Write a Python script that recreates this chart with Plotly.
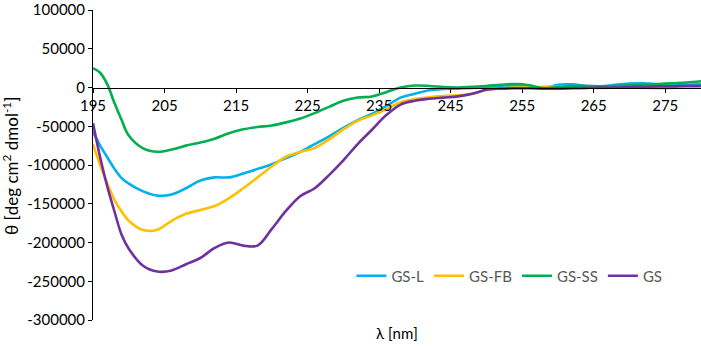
import plotly.graph_objects as go

wavelength = [195, 196, 197, 198, 199, 200, 202, 204, 206, 208, 210, 212, 214, 216, 218, 220,
              222, 224, 226, 228, 230, 232, 234, 236, 238, 240, 242, 244, 246, 248, 250, 252,
              254, 256, 258, 260, 262, 264, 266, 268, 270, 272, 274, 276, 278, 280]

gs_l = [-57000, -75000, -90000, -105000, -117000, -124000, -134000, -139500, -138000, -130000,
        -120000, -116000, -116000, -111000, -105000, -99000, -91000, -83000, -73000, -63000,
        -52000, -42000, -34000, -24000, -13000, -8000, -3500, -2000, -1500, -500, 0, 1000,
        2000, 1500, -1000, 3500, 4000, 2000, 1500, 3500, 5000, 5500, 4000, 3000, 3500, 4000]

gs_fb = [-73000, -100000, -124000, -145000, -160000, -172000, -184000, -183500, -172000, -163000,
         -158000, -153000, -143000, -130000, -116000, -102000, -89000, -83000, -78000, -67000,
         -54000, -43000, -36000, -28000, -19000, -15000, -12500, -11000, -10000, -8500, -3000, -1000,
         0, 0, 1000, 1000, 500, 0, -500, 0, 0, -500, -1000, -500, 500, 1500]

gs_ss = [25000, 19000, 4000, -20000, -42000, -62000, -78500, -83000, -80000, -75000,
         -71000, -66000, -59000, -54000, -51000, -49000, -45000, -40000, -33000, -25000,
         -17000, -13000, -11500, -6000, 0, 2500, 2000, 500, 0, 1000, 2000, 3500,
         4500, 3000, -1000, 500, 2000, 2000, 1500, 2000, 3000, 3500, 4500, 5500, 6500, 8000]

gs = [-46000, -90000, -128000, -160000, -190000, -208000, -230000, -237500, -236000, -228000,
      -220000, -207000, -200000, -204000, -204000, -182500, -159000, -140000, -130000, -113000,
      -94000, -73000, -54500, -35600, -22000, -17000, -14500, -13000, -11500, -8000, -3000, -1500,
      -1000, -1000, -1500, -1500, -1000, -500, 0, 0, 500, 1000, 1500, 1500, 2000, 2000]

series = [
    ("GS-L", gs_l, "#00B0F0"),
    ("GS-FB", gs_fb, "#FFC000"),
    ("GS-SS", gs_ss, "#00B050"),
    ("GS", gs, "#7030A0"),
]

x_ticks = [195, 205, 215, 225, 235, 245, 255, 265, 275]
y_ticks = [100000, 50000, 0, -50000, -100000, -150000, -200000, -250000, -300000]

FONT = "Lato"

fig = go.Figure()
for name, vals, color in series:
    fig.add_trace(go.Scatter(x=wavelength, y=vals, name=name, mode="lines",
                             line=dict(color=color, width=2.6, shape="spline", smoothing=1.0)))

M_L, M_R, M_T, M_B = 93, 0, 10, 28
plot_w = 701 - M_L - M_R
plot_h = 348 - M_T - M_B
bottom_px = 348 - M_B

fig.update_layout(
    width=701, height=348,
    margin=dict(l=M_L, r=M_R, t=M_T, b=M_B, autoexpand=False),
    paper_bgcolor="white", plot_bgcolor="white",
    font=dict(family=FONT, size=15, color="#000000"),
    showlegend=True,
    legend=dict(orientation="h", x=0.425, xanchor="left", y=(bottom_px - 276) / plot_h,
                yanchor="middle",
                font=dict(family=FONT, size=15, color="#595959"),
                bgcolor="rgba(0,0,0,0)", itemwidth=30, tracegroupgap=0),
    xaxis=dict(range=[195, 280], tickmode="array", tickvals=x_ticks,
               ticktext=[str(v) for v in x_ticks],
               showgrid=False, zeroline=False, showline=True, linecolor="#000000", linewidth=1,
               ticks="outside", ticklen=4, tickcolor="#000000",
               anchor="free", position=0.75, automargin=False,
               tickfont=dict(family=FONT, size=15, color="#000000")),
    yaxis=dict(range=[-300000, 100000], tickmode="array", tickvals=y_ticks,
               ticktext=[str(v) for v in y_ticks],
               showgrid=False, zeroline=False, showline=True, linecolor="#000000", linewidth=1,
               ticks="outside", ticklen=4, tickcolor="#000000",
               ticklabeloverflow="allow", automargin=False,
               tickfont=dict(family=FONT, size=15, color="#000000")),
    annotations=[
        dict(text="λ [nm]", xref="paper", yref="paper",
             x=(397 - M_L) / plot_w, y=(bottom_px - 333) / plot_h,
             xanchor="center", yanchor="middle", showarrow=False,
             font=dict(family=FONT, size=15, color="#000000")),
        dict(text="θ [deg cm<sup>2</sup> dmol<sup>-1</sup>]", textangle=-90,
             xref="paper", yref="paper",
             x=(11 - M_L) / plot_w, y=(bottom_px - 166) / plot_h,
             xanchor="center", yanchor="middle", showarrow=False,
             font=dict(family=FONT, size=17, color="#000000")),
    ],
)

fig.write_html("out.html")
